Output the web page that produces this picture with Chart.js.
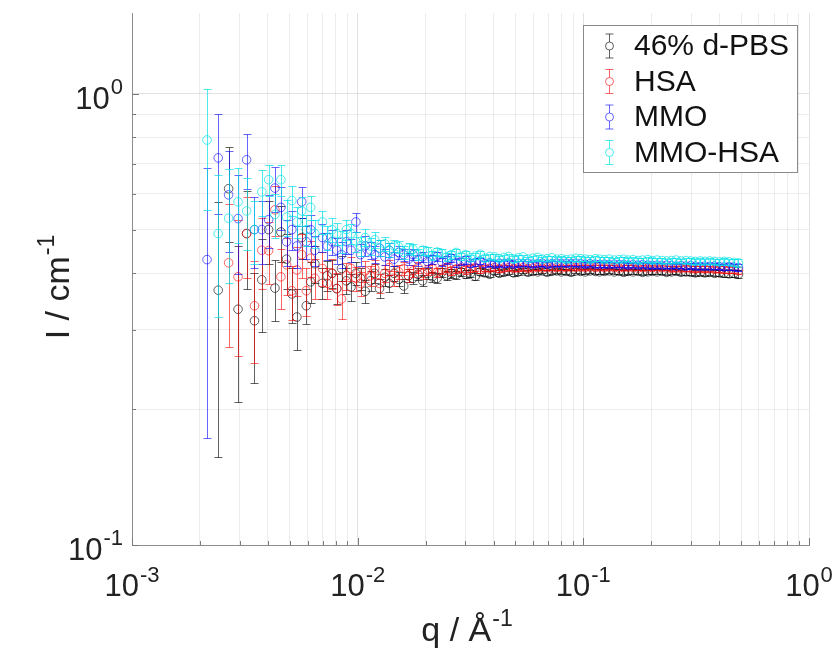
<!DOCTYPE html>
<html>
<head>
<meta charset="utf-8">
<script src="https://cdn.jsdelivr.net/npm/chart.js@4.4.0/dist/chart.umd.min.js"></script>
<style>
html, body { margin: 0; padding: 0; background: #fff; }
#contenedor { width: 839px; height: 660px; }
</style>
</head>
<body>
<div id="contenedor"><canvas id="grafico" width="839" height="660"></canvas></div>
<script>
// Valores de q (Å^-1) compartidos por las cuatro series.
const qValores = [0.00215, 0.00241, 0.00268, 0.00295, 0.00322, 0.00349, 0.00376, 0.00403, 0.0043, 0.00457,
    0.00484, 0.00511, 0.00538, 0.00565, 0.00592, 0.00619, 0.00646,
    0.00698, 0.00733, 0.0077, 0.00808, 0.00848, 0.00891, 0.00935, 0.00982, 0.0103, 0.0108,
    0.0114, 0.0119, 0.0125, 0.0132, 0.0138, 0.0145, 0.0152, 0.016, 0.0168, 0.0176,
    0.0185, 0.0194, 0.0204, 0.0214, 0.0225, 0.0236, 0.0248, 0.026, 0.0273, 0.0287,
    0.0301, 0.0316, 0.0332, 0.0349, 0.0366, 0.0385, 0.0404, 0.0424, 0.0445, 0.0467,
    0.0491, 0.0515, 0.0541, 0.0568, 0.0597, 0.0627, 0.0658, 0.0691, 0.0725, 0.0762,
    0.08, 0.084, 0.0882, 0.0926, 0.0972, 0.102, 0.107, 0.113, 0.118, 0.124,
    0.13, 0.137, 0.144, 0.151, 0.158, 0.166, 0.175, 0.183, 0.193, 0.202,
    0.212, 0.223, 0.234, 0.246, 0.258, 0.271, 0.285, 0.299, 0.314, 0.33,
    0.346, 0.363, 0.382, 0.401, 0.421, 0.442, 0.464, 0.487];

// Nombres de las series (leyenda).
const nombresSeries = ['46% d-PBS', 'HSA', 'MMO', 'MMO-HSA'];

// Intensidad I (cm^-1) y su error para cada serie.
const iPBS = [null, 0.367, 0.616, 0.333, 0.49, 0.314, 0.387, 0.50, 0.371, 0.494, 0.43, 0.36, 0.32, 0.48, 0.339, 0.383, 0.42,
    0.38, 0.395, 0.40, 0.37, 0.41, 0.385, 0.373, 0.40, 0.39, 0.365,
    0.385, 0.40, 0.37, 0.392, 0.38, 0.40, 0.388, 0.375, 0.395, 0.39,
    0.398, 0.385, 0.40, 0.393, 0.39, 0.402, 0.395, 0.40, 0.397, 0.403,
    0.398, 0.40, 0.394, 0.403, 0.401, 0.398, 0.404, 0.40, 0.402, 0.404,
    0.401, 0.403, 0.405, 0.402, 0.404, 0.403, 0.405, 0.402, 0.404, 0.405,
    0.403, 0.404, 0.402, 0.405, 0.404, 0.403, 0.405, 0.404, 0.403, 0.404,
    0.405, 0.403, 0.404, 0.402, 0.404, 0.403, 0.404, 0.402, 0.403, 0.404,
    0.403, 0.404, 0.402, 0.403, 0.404, 0.402, 0.403, 0.402, 0.401, 0.402,
    0.401, 0.402, 0.400, 0.401, 0.400, 0.399, 0.400, 0.398];
const errPBS = [null, 0.21, 0.147, 0.126, 0.12, 0.086, 0.09, 0.08, 0.057, 0.07, 0.06, 0.05, 0.05, 0.05, 0.03, 0.04, 0.04,
    0.03, 0.03, 0.028, 0.028, 0.026, 0.025, 0.025, 0.023, 0.022, 0.021,
    0.02, 0.019, 0.018, 0.017, 0.016, 0.015, 0.014, 0.014, 0.013, 0.012,
    0.012, 0.011, 0.011, 0.01, 0.01, 0.009, 0.009, 0.009, 0.008, 0.008,
    0.008, 0.007, 0.007, 0.007, 0.007, 0.006, 0.006, 0.006, 0.006, 0.006,
    0.006, 0.006, 0.005, 0.005, 0.005, 0.005, 0.005, 0.005, 0.005, 0.005,
    0.005, 0.005, 0.005, 0.005, 0.005, 0.005, 0.005, 0.005, 0.005, 0.005,
    0.005, 0.005, 0.005, 0.005, 0.005, 0.005, 0.005, 0.005, 0.005, 0.005,
    0.005, 0.005, 0.005, 0.005, 0.005, 0.005, 0.006, 0.006, 0.006, 0.006,
    0.006, 0.006, 0.006, 0.006, 0.007, 0.007, 0.007, 0.008];

const iHSA = [null, null, 0.422, 0.393, 0.49, 0.339, 0.45, 0.449, 0.553, 0.393, 0.418, 0.366, 0.407, 0.44, 0.366, 0.432, 0.39,
    0.41, 0.38, 0.40, 0.37, 0.351, 0.395, 0.41, 0.39, 0.38, 0.405,
    0.395, 0.41, 0.38, 0.40, 0.412, 0.39, 0.403, 0.41, 0.395, 0.405,
    0.412, 0.40, 0.407, 0.41, 0.402, 0.408, 0.412, 0.405, 0.409, 0.411,
    0.407, 0.41, 0.412, 0.408, 0.411, 0.41, 0.412, 0.409, 0.411, 0.412,
    0.41, 0.411, 0.412, 0.41, 0.411, 0.412, 0.411, 0.412, 0.411, 0.412,
    0.411, 0.412, 0.413, 0.412, 0.413, 0.412, 0.413, 0.412, 0.413, 0.412,
    0.413, 0.412, 0.411, 0.412, 0.413, 0.412, 0.411, 0.412, 0.411, 0.412,
    0.411, 0.412, 0.411, 0.41, 0.411, 0.41, 0.411, 0.41, 0.409, 0.41,
    0.409, 0.41, 0.408, 0.409, 0.408, 0.407, 0.408, 0.406];
const errHSA = [null, null, 0.147, 0.131, 0.10, 0.086, 0.08, 0.07, 0.07, 0.06, 0.06, 0.05, 0.05, 0.05, 0.045, 0.04, 0.04,
    0.035, 0.03, 0.03, 0.03, 0.034, 0.027, 0.025, 0.024, 0.023, 0.022,
    0.02, 0.019, 0.018, 0.017, 0.016, 0.015, 0.014, 0.014, 0.013, 0.012,
    0.012, 0.011, 0.011, 0.01, 0.01, 0.009, 0.009, 0.009, 0.008, 0.008,
    0.008, 0.007, 0.007, 0.007, 0.007, 0.006, 0.006, 0.006, 0.006, 0.006,
    0.006, 0.006, 0.005, 0.005, 0.005, 0.005, 0.005, 0.005, 0.005, 0.005,
    0.005, 0.005, 0.005, 0.005, 0.005, 0.005, 0.005, 0.005, 0.005, 0.005,
    0.005, 0.005, 0.005, 0.005, 0.005, 0.005, 0.005, 0.005, 0.005, 0.005,
    0.005, 0.005, 0.005, 0.005, 0.005, 0.005, 0.006, 0.006, 0.006, 0.006,
    0.006, 0.006, 0.006, 0.006, 0.007, 0.007, 0.007, 0.008];

const iMMO = [0.429, 0.721, 0.597, 0.529, 0.714, 0.50, 0.50, 0.526, 0.618, 0.56, 0.47, 0.50, 0.46, 0.576, 0.47, 0.50, 0.45,
    0.48, 0.46, 0.47, 0.45, 0.44, 0.47, 0.45, 0.52, 0.44, 0.46,
    0.45, 0.44, 0.455, 0.435, 0.45, 0.43, 0.445, 0.44, 0.43, 0.44,
    0.428, 0.435, 0.425, 0.43, 0.436, 0.424, 0.428, 0.432, 0.422, 0.425,
    0.428, 0.42, 0.423, 0.426, 0.42, 0.422, 0.419, 0.421, 0.42, 0.422,
    0.419, 0.421, 0.42, 0.421, 0.419, 0.42, 0.421, 0.419, 0.42, 0.421,
    0.42, 0.421, 0.42, 0.421, 0.42, 0.419, 0.42, 0.419, 0.418, 0.419,
    0.418, 0.419, 0.418, 0.418, 0.417, 0.418, 0.417, 0.418, 0.417, 0.416,
    0.417, 0.416, 0.417, 0.416, 0.415, 0.416, 0.415, 0.416, 0.415, 0.414,
    0.415, 0.414, 0.415, 0.414, 0.413, 0.414, 0.413, 0.412];
const errMMO = [0.256, 0.18, 0.15, 0.13, 0.10, 0.09, 0.08, 0.07, 0.07, 0.06, 0.055, 0.05, 0.05, 0.045, 0.04, 0.04, 0.035,
    0.035, 0.032, 0.03, 0.03, 0.03, 0.028, 0.027, 0.025, 0.024, 0.023,
    0.02, 0.019, 0.018, 0.017, 0.016, 0.015, 0.014, 0.014, 0.013, 0.012,
    0.012, 0.011, 0.011, 0.01, 0.01, 0.009, 0.009, 0.009, 0.008, 0.008,
    0.008, 0.007, 0.007, 0.007, 0.007, 0.006, 0.006, 0.006, 0.006, 0.006,
    0.006, 0.006, 0.005, 0.005, 0.005, 0.005, 0.005, 0.005, 0.005, 0.005,
    0.005, 0.005, 0.005, 0.005, 0.005, 0.005, 0.005, 0.005, 0.005, 0.005,
    0.005, 0.005, 0.005, 0.005, 0.005, 0.005, 0.005, 0.005, 0.005, 0.005,
    0.005, 0.005, 0.005, 0.005, 0.005, 0.005, 0.006, 0.006, 0.006, 0.006,
    0.006, 0.006, 0.006, 0.006, 0.007, 0.007, 0.007, 0.008];

const iMMOHSA = [0.79, 0.49, 0.53, 0.576, 0.55, 0.50, 0.606, 0.645, 0.54, 0.645, 0.533, 0.58, 0.52, 0.55, 0.50, 0.56, 0.49,
    0.52, 0.48, 0.50, 0.49, 0.47, 0.50, 0.49, 0.47, 0.46, 0.48,
    0.46, 0.475, 0.455, 0.465, 0.45, 0.46, 0.458, 0.445, 0.455, 0.452,
    0.44, 0.45, 0.447, 0.438, 0.446, 0.443, 0.435, 0.44, 0.445, 0.436,
    0.44, 0.433, 0.437, 0.441, 0.432, 0.436, 0.435, 0.431, 0.434, 0.436,
    0.43, 0.433, 0.435, 0.43, 0.432, 0.434, 0.43, 0.431, 0.433, 0.43,
    0.431, 0.429, 0.43, 0.432, 0.431, 0.43, 0.429, 0.431, 0.43, 0.429,
    0.43, 0.428, 0.429, 0.43, 0.428, 0.429, 0.427, 0.428, 0.429, 0.427,
    0.428, 0.427, 0.426, 0.427, 0.428, 0.426, 0.427, 0.426, 0.425, 0.426,
    0.425, 0.426, 0.425, 0.424, 0.425, 0.424, 0.423, 0.422];
const errMMOHSA = [0.237, 0.17, 0.15, 0.11, 0.10, 0.08, 0.07, 0.05, 0.06, 0.05, 0.05, 0.045, 0.04, 0.04, 0.04, 0.035, 0.035,
    0.03, 0.03, 0.03, 0.028, 0.027, 0.026, 0.025, 0.024, 0.022, 0.021,
    0.02, 0.019, 0.018, 0.017, 0.016, 0.015, 0.014, 0.014, 0.013, 0.012,
    0.012, 0.011, 0.011, 0.01, 0.01, 0.009, 0.009, 0.009, 0.008, 0.008,
    0.008, 0.007, 0.007, 0.007, 0.007, 0.006, 0.006, 0.006, 0.006, 0.006,
    0.006, 0.006, 0.005, 0.005, 0.005, 0.005, 0.005, 0.005, 0.005, 0.005,
    0.005, 0.005, 0.005, 0.005, 0.005, 0.005, 0.005, 0.005, 0.005, 0.005,
    0.005, 0.005, 0.005, 0.005, 0.005, 0.005, 0.005, 0.005, 0.005, 0.005,
    0.005, 0.005, 0.005, 0.005, 0.005, 0.005, 0.006, 0.006, 0.006, 0.006,
    0.006, 0.006, 0.006, 0.006, 0.007, 0.007, 0.007, 0.008];

// Décadas de los ejes (etiquetas 10^n).
const decadasX = [-3, -2, -1, 0];
const decadasY = [-1, 0];

// Colores de las series.
const colores = ['rgba(0, 0, 0, 0.62)', 'rgba(255, 0, 0, 0.6)', 'rgba(0, 0, 255, 0.6)', 'rgba(0, 225, 230, 0.7)'];

const FUENTE = '"Liberation Sans", Arial, sans-serif';

// Se arma la lista de puntos {x, y, e} de una serie, omitiendo los vacíos.
const armarPuntos = (valores, errores) => {
    const puntos = [];
    qValores.forEach((q, i) => {
        if (valores[i] !== null) {
            puntos.push({ x: q, y: valores[i], e: errores[i] });
        }
    });
    return puntos;
};

// Ticks mayores y menores de una escala logarítmica entre dos décadas.
const ticksLog = (desde, hasta, max) => {
    const lista = [];
    for (let d = desde; d < hasta; d++) {
        for (let m = 1; m <= 9; m++) {
            const v = m * Math.pow(10, d);
            if (v <= max) lista.push({ value: v });
        }
    }
    lista.push({ value: Math.pow(10, hasta) });
    return lista;
};

const esMayor = (v) => Math.abs(Math.log10(v) - Math.round(Math.log10(v))) < 1e-9;

// Plugin para dibujar las barras de error de cada serie antes de sus marcadores.
const barrasError = {
    id: 'barrasError',
    beforeDatasetDraw(chart, args) {
        const ds = chart.data.datasets[args.index];
        const x = chart.scales.x;
        const y = chart.scales.y;
        const ctx = chart.ctx;
        const area = chart.chartArea;
        ctx.save();
        ctx.beginPath();
        ctx.rect(area.left, area.top, area.right - area.left, area.bottom - area.top);
        ctx.clip();
        ctx.strokeStyle = ds.borderColor;
        ctx.lineWidth = 1;
        ds.data.forEach(p => {
            if (p.e === null || p.e === undefined) return;
            const px = Math.round(x.getPixelForValue(p.x)) + 0.5;
            const arriba = Math.round(y.getPixelForValue(p.y + p.e)) + 0.5;
            const abajo = Math.round(y.getPixelForValue(p.y - p.e)) + 0.5;
            ctx.beginPath();
            ctx.moveTo(px, arriba);
            ctx.lineTo(px, abajo);
            ctx.moveTo(px - 4, arriba);
            ctx.lineTo(px + 4, arriba);
            ctx.moveTo(px - 4, abajo);
            ctx.lineTo(px + 4, abajo);
            ctx.stroke();
        });
        ctx.restore();
    }
};

// Texto con exponente (10^n, unidades) sobre el canvas.
const anchoPotencia = (ctx, base, exp, tamBase, tamExp) => {
    ctx.font = `${tamBase}px ${FUENTE}`;
    const a = ctx.measureText(base).width;
    ctx.font = `${tamExp}px ${FUENTE}`;
    const b = ctx.measureText(exp).width;
    return [a, b];
};

const dibujarPotencia = (ctx, base, exp, x, y, tamBase, tamExp, subida) => {
    const [a] = anchoPotencia(ctx, base, exp, tamBase, tamExp);
    ctx.textAlign = 'left';
    ctx.textBaseline = 'alphabetic';
    ctx.font = `${tamBase}px ${FUENTE}`;
    ctx.fillText(base, x, y);
    ctx.font = `${tamExp}px ${FUENTE}`;
    ctx.fillText(exp, x + a + 1, y - subida);
};

// Plugin para etiquetas de ejes, marcas interiores y leyenda.
const decoracion = {
    id: 'decoracion',
    afterDraw(chart) {
        const ctx = chart.ctx;
        const x = chart.scales.x;
        const y = chart.scales.y;
        const area = chart.chartArea;
        ctx.save();

        // Marcas interiores de los ejes.
        ctx.strokeStyle = '#7a7a7a';
        ctx.lineWidth = 1;
        x.ticks.forEach(t => {
            const px = Math.round(x.getPixelForValue(t.value)) + 0.5;
            const largo = esMayor(t.value) ? 7 : 4;
            ctx.beginPath();
            ctx.moveTo(px, area.bottom);
            ctx.lineTo(px, area.bottom - largo);
            ctx.stroke();
        });
        y.ticks.forEach(t => {
            const py = Math.round(y.getPixelForValue(t.value)) + 0.5;
            const largo = esMayor(t.value) ? 7 : 4;
            ctx.beginPath();
            ctx.moveTo(area.left, py);
            ctx.lineTo(area.left + largo, py);
            ctx.stroke();
        });

        // Etiquetas de ticks con exponentes.
        ctx.fillStyle = '#222';
        decadasX.forEach(d => {
            const px = x.getPixelForValue(Math.pow(10, d));
            const exp = String(d);
            const [a, b] = anchoPotencia(ctx, '10', exp, 31, 22);
            dibujarPotencia(ctx, '10', exp, px - (a + b + 1) / 2, 596, 31, 22, 14);
        });
        decadasY.forEach(d => {
            const py = y.getPixelForValue(Math.pow(10, d));
            const exp = String(d);
            const [a, b] = anchoPotencia(ctx, '10', exp, 31, 22);
            dibujarPotencia(ctx, '10', exp, 123 - (a + b + 1), py + 15, 31, 22, 15);
        });

        // Títulos de los ejes.
        const [qa, qb] = anchoPotencia(ctx, 'q / Å', '-1', 34, 23);
        dibujarPotencia(ctx, 'q / Å', '-1', 467 - (qa + qb + 1) / 2, 641, 34, 23, 15);
        ctx.save();
        ctx.translate(69, 287);
        ctx.rotate(-Math.PI / 2);
        const [ia, ib] = anchoPotencia(ctx, 'I / cm', '-1', 34, 23);
        dibujarPotencia(ctx, 'I / cm', '-1', -(ia + ib + 1) / 2, 0, 34, 23, 15);
        ctx.restore();

        // Leyenda.
        const lx = 583.5, ly = 25.5, lw = 214, lh = 147;
        ctx.fillStyle = '#fff';
        ctx.fillRect(lx, ly, lw, lh);
        ctx.strokeStyle = '#8a8a8a';
        ctx.strokeRect(lx, ly, lw, lh);
        chart.data.datasets.forEach((ds, i) => {
            const cy = 46 + i * 35.5;
            const cx = 609.5;
            ctx.strokeStyle = ds.borderColor;
            ctx.lineWidth = 1;
            ctx.beginPath();
            ctx.moveTo(cx, cy - 12);
            ctx.lineTo(cx, cy - 4);
            ctx.moveTo(cx, cy + 4);
            ctx.lineTo(cx, cy + 12);
            ctx.moveTo(cx - 4, cy - 12);
            ctx.lineTo(cx + 4, cy - 12);
            ctx.moveTo(cx - 4, cy + 12);
            ctx.lineTo(cx + 4, cy + 12);
            ctx.stroke();
            ctx.beginPath();
            ctx.arc(cx, cy, 4, 0, Math.PI * 2);
            ctx.stroke();
            ctx.fillStyle = '#111';
            ctx.font = `30px ${FUENTE}`;
            ctx.textAlign = 'left';
            ctx.textBaseline = 'middle';
            ctx.fillText(ds.label, 634, cy + 1);
        });
        ctx.restore();
    }
};

document.addEventListener('DOMContentLoaded', () => {
    const series = [
        [iPBS, errPBS],
        [iHSA, errHSA],
        [iMMO, errMMO],
        [iMMOHSA, errMMOHSA]
    ];
    const datasets = series.map((s, i) => ({
        label: nombresSeries[i],
        data: armarPuntos(s[0], s[1]),
        borderColor: colores[i],
        backgroundColor: 'rgba(0, 0, 0, 0)',
        pointBackgroundColor: 'rgba(0, 0, 0, 0)',
        pointBorderColor: colores[i],
        pointBorderWidth: 1,
        pointRadius: 4.3,
        showLine: false,
        // Se dibuja la última serie encima, como en el original.
        order: series.length - i
    }));

    new Chart(document.getElementById('grafico'), {
        type: 'scatter',
        data: { datasets },
        options: {
            responsive: false,
            animation: false,
            events: [],
            layout: { padding: { top: 13, right: 30, left: 0, bottom: 0 } },
            plugins: {
                legend: { display: false },
                tooltip: { enabled: false },
                title: { display: false }
            },
            scales: {
                x: {
                    type: 'logarithmic',
                    min: 0.001,
                    max: 1,
                    afterBuildTicks: (scale) => { scale.ticks = ticksLog(-3, 0, 1); },
                    afterFit: (scale) => { scale.height = 115; },
                    ticks: { display: false },
                    grid: {
                        drawTicks: false,
                        color: (c) => esMayor(c.tick.value) ? 'rgba(0, 0, 0, 0.11)' : 'rgba(0, 0, 0, 0.07)'
                    },
                    border: { display: true, color: '#8c8c8c', width: 1 }
                },
                y: {
                    type: 'logarithmic',
                    min: 0.1,
                    max: 1.51,
                    afterBuildTicks: (scale) => { scale.ticks = ticksLog(-1, 0, 1.51); },
                    afterFit: (scale) => { scale.width = 132; },
                    ticks: { display: false },
                    grid: {
                        drawTicks: false,
                        color: (c) => esMayor(c.tick.value) ? 'rgba(0, 0, 0, 0.11)' : 'rgba(0, 0, 0, 0.07)'
                    },
                    border: { display: true, color: '#8c8c8c', width: 1 }
                }
            }
        },
        plugins: [barrasError, decoracion]
    });
});
</script>
</body>
</html>
